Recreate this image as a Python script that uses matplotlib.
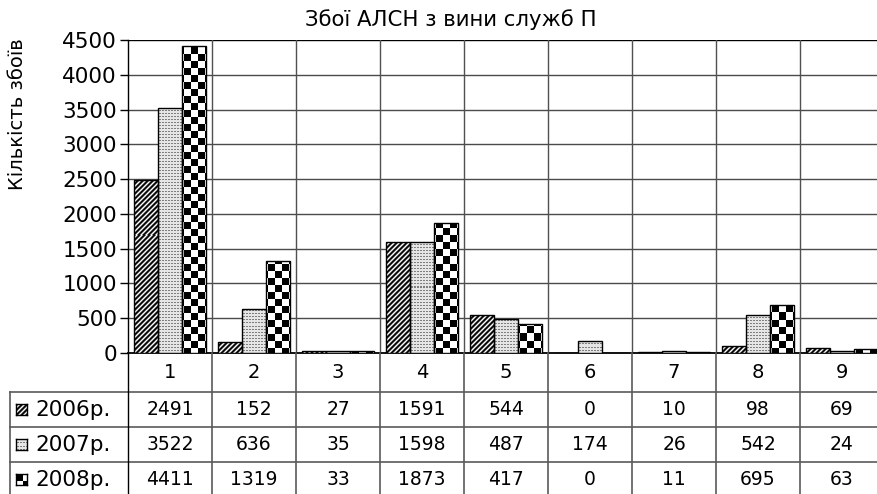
import numpy as np
import matplotlib
matplotlib.use("Agg")
import matplotlib.pyplot as plt

plt.rcParams['font.family'] = ['DejaVu Sans']

# data
categories = ['1', '2', '3', '4', '5', '6', '7', '8', '9']
series_names = ['2006р.', '2007р.', '2008р.']
v2006 = [2491, 152, 27, 1591, 544, 0, 10, 98, 69]
v2007 = [3522, 636, 35, 1598, 487, 174, 26, 542, 24]
v2008 = [4411, 1319, 33, 1873, 417, 0, 11, 695, 63]
yticks = [0, 500, 1000, 1500, 2000, 2500, 3000, 3500, 4000, 4500]

W, H = 877, 494


def fx(px):
    return px / W


def fy(py):
    return 1 - py / H


def texture(kind, h, w):
    r, c = np.mgrid[0:h, 0:w]
    if kind == 'diag':
        lut = np.array([0.05, 0.05, 0.5, 1.0, 0.55])
        v = lut[(r + c) % 5]
    elif kind == 'dots':
        v = np.full((h, w), 0.9)
        v[(r % 3 == 1) & (c % 3 != 0)] = 0.5
    else:
        v = np.where(((r // 7) + (c // 7)) % 2 == 0, 0.0, 1.0)
    return np.dstack([v, v, v])


kinds = ['diag', 'dots', 'check']
values = [v2006, v2007, v2008]

fig = plt.figure(figsize=(W / 100, H / 100), dpi=100)
col_w = 84
ax_left, ax_top, ax_bottom = 128, 40, 353
ax = fig.add_axes([fx(ax_left), fy(ax_bottom), 9 * col_w / W, (ax_bottom - ax_top) / H])

x = np.arange(len(categories))
bw = 0.282
ymax = 4500
ah = ax_bottom - ax_top
aw = 9 * col_w
for i, (vals, kind) in enumerate(zip(values, kinds)):
    bars = ax.bar(x + (i - 1) * bw, vals, width=bw, facecolor='none',
                  edgecolor='black', linewidth=1.0, zorder=4)
    tex = texture(kind, ah, aw)
    for b in bars:
        im = ax.imshow(tex, extent=(-0.5, 8.5, 0, ymax), aspect='auto',
                       interpolation='nearest', zorder=3)
        im.set_clip_path(b)

ax.set_xlim(-0.5, 8.5)
ax.set_ylim(0, ymax)
ax.set_yticks(yticks)
ax.set_xticks([])
for y in yticks[1:]:
    ax.axhline(y, color='black' if y == ymax else '#4a4a4a', lw=1.0, zorder=1)
for k in range(1, 9):
    ax.axvline(k - 0.5, color='#505050', lw=1.0, zorder=1)
for s in ['top', 'right']:
    ax.spines[s].set_visible(False)
ax.spines['left'].set_linewidth(1.0)
ax.spines['bottom'].set_linewidth(1.3)
ax.tick_params(axis='y', length=6, width=1.0, pad=2, labelsize=15.5)

fig.text(fx(451), fy(20), 'Збої АЛСН з вини служб П', ha='center', va='center', fontsize=15.3)
fig.text(fx(18), fy(114), 'Кількість збоїв', ha='center', va='center', rotation=90, fontsize=14)

# data table under the chart
tab = fig.add_axes([fx(ax_left), 0, 9 * col_w / W, (H - ax_bottom) / H])
tab.set_xlim(-0.5, 8.5)
tab.set_ylim(H - ax_bottom, 0)
tab.axis('off')
row_lines = [39, 74, 109, 144]
left_x = -0.5 - (ax_left - 10) / col_w
tcol = '#5a5a5a'
for y in row_lines[:3]:
    tab.plot([left_x, 8.5], [y, y], color=tcol, lw=1.2, clip_on=False)
tab.plot([left_x, left_x], [row_lines[0], 150], color=tcol, lw=1.2, clip_on=False)
tab.plot([-0.5, -0.5], [0, 150], color='black', lw=1.0, clip_on=False)
for k in range(1, 9):
    tab.plot([k - 0.5, k - 0.5], [0, 150], color=tcol, lw=1.2, clip_on=False)

for j, cat in enumerate(categories):
    tab.text(j, 19.5, cat, ha='center', va='center', fontsize=14)
for i, vals in enumerate(values):
    yc = (row_lines[i] + row_lines[i + 1]) / 2
    for j, v in enumerate(vals):
        tab.text(j, yc, str(v), ha='center', va='center', fontsize=13.5)
    tab.text(-0.5 - (ax_left - 35) / col_w, yc, series_names[i], ha='left',
             va='center', fontsize=15.5, clip_on=False)
    # legend key
    key_px = 11
    kx, ky = 16, ax_bottom + yc - key_px / 2
    kax = fig.add_axes([fx(kx), fy(ky + key_px), key_px / W, key_px / H])
    kax.imshow(texture(kinds[i], key_px, key_px), interpolation='nearest', aspect='auto')
    kax.set_xticks([])
    kax.set_yticks([])
    for s in kax.spines.values():
        s.set_linewidth(1.0)

fig.savefig('out.png', dpi=100)
